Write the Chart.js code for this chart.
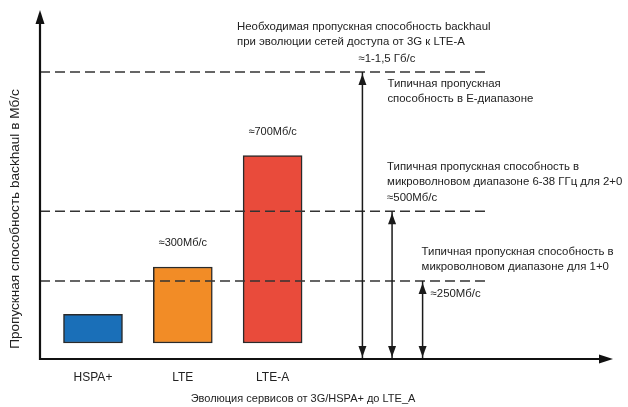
<!DOCTYPE html>
<html>
<head>
<meta charset="utf-8">
<script src="https://cdn.jsdelivr.net/npm/chart.js@4"></script>
<style>
  html, body { margin: 0; padding: 0; background: #fff; }
  #wrap { width: 628px; height: 407px; }
</style>
</head>
<body>
<div id="wrap"><canvas id="c" width="628" height="407"></canvas></div>
<script>
// Access technologies and the backhaul capacity each one needs (Mb/s)
const technologies = ['HSPA+', 'LTE', 'LTE-A'];
const techSlots = [1, 2, 3];
const requiredCapacity = [130, 300, 700];
const barFloor = 27;
const capacityLabels = ['', '≈300Мб/с', '≈700Мб/с'];

// Typical transport capacities (Mb/s) and where their arrows stand
const capacityLevels = [1000, 500, 250];
const levelSlots = [4, 4.33, 4.67];
const levelLineEnd = 5.37;

const barColors = ['#1a6fb8', '#f28c26', '#e94b3b'];
const X_MIN = 0.41, X_MAX = 6.79;
const Y_MIN = -30.5, Y_MAX = 1223;

const FONT = '"Liberation Sans", Arial, sans-serif';
const INK = '#222';

const datasets = [];

// Dashed capacity levels
capacityLevels.forEach(v => {
  datasets.push({
    type: 'line',
    data: [{ x: X_MIN, y: v }, { x: levelLineEnd, y: v }],
    borderColor: '#333',
    borderWidth: 1.5,
    borderDash: [10, 5],
    pointRadius: 0,
    fill: false,
    order: 2
  });
});

// Vertical double-headed arrows from the axis up to each level
capacityLevels.forEach((v, i) => {
  datasets.push({
    type: 'line',
    data: [{ x: levelSlots[i], y: Y_MIN }, { x: levelSlots[i], y: v }],
    borderColor: '#1a1a1a',
    borderWidth: 1.5,
    pointRadius: 0,
    fill: false,
    order: 1
  });
});

// Bars
datasets.push({
  type: 'bar',
  data: techSlots.map((x, i) => ({ x: x, y: [barFloor, requiredCapacity[i]] })),
  backgroundColor: barColors,
  borderColor: '#2a2a2a',
  borderWidth: 1.5,
  borderSkipped: false,
  barThickness: 59,
  order: 3
});

function triangle(ctx, tipX, tipY, dx, dy, len, half) {
  // dx,dy: unit direction the tip points to
  const bx = tipX - dx * len, by = tipY - dy * len;
  ctx.beginPath();
  ctx.moveTo(tipX, tipY);
  ctx.lineTo(bx - dy * half, by + dx * half);
  ctx.lineTo(bx + dy * half, by - dx * half);
  ctx.closePath();
  ctx.fill();
}

const decorations = {
  id: 'decorations',
  afterDatasetsDraw(chart) {
    const { ctx, chartArea: a, scales: { x, y } } = chart;
    ctx.save();

    // Axes with arrowheads
    ctx.strokeStyle = '#111';
    ctx.fillStyle = '#111';
    ctx.lineWidth = 2.2;
    ctx.beginPath();
    ctx.moveTo(a.left, a.top + 8);
    ctx.lineTo(a.left, a.bottom);
    ctx.lineTo(a.right - 8, a.bottom);
    ctx.stroke();
    triangle(ctx, a.left, a.top, 0, -1, 14, 4.5);
    triangle(ctx, a.right, a.bottom, 1, 0, 14, 4.5);

    // Arrowheads on the level arrows
    ctx.fillStyle = '#1a1a1a';
    capacityLevels.forEach((v, i) => {
      const px = x.getPixelForValue(levelSlots[i]);
      triangle(ctx, px, y.getPixelForValue(v) + 2, 0, -1, 11, 4);
      triangle(ctx, px, y.getPixelForValue(Y_MIN) - 2, 0, 1, 11, 4);
    });

    ctx.fillStyle = INK;
    ctx.textBaseline = 'middle';

    // Category labels
    ctx.font = '12px ' + FONT;
    ctx.textAlign = 'center';
    technologies.forEach((t, i) => {
      ctx.fillText(t, x.getPixelForValue(techSlots[i]), a.bottom + 19);
    });

    // Values above bars
    ctx.font = '11px ' + FONT;
    requiredCapacity.forEach((v, i) => {
      if (!capacityLabels[i]) return;
      ctx.fillText(capacityLabels[i], x.getPixelForValue(techSlots[i]), y.getPixelForValue(v) - 24);
    });

    // Axis titles
    ctx.font = '11px ' + FONT;
    ctx.fillText('Эволюция сервисов от 3G/HSPA+ до LTE_A', 303, a.bottom + 40);
    ctx.save();
    ctx.translate(15, 219);
    ctx.rotate(-Math.PI / 2);
    ctx.font = '13.6px ' + FONT;
    ctx.fillText('Пропускная способность backhaul в Мб/с', 0, 0);
    ctx.restore();

    // Header
    ctx.textAlign = 'left';
    ctx.font = '11.4px ' + FONT;
    ctx.fillText('Необходимая пропускная способность backhaul', 237, 27);
    ctx.fillText('при эволюции сетей доступа от 3G к LTE-A', 237, 42);

    // Level annotations
    const ax0 = x.getPixelForValue(levelSlots[0]);
    const ax1 = x.getPixelForValue(levelSlots[1]);
    const ax2 = x.getPixelForValue(levelSlots[2]);
    const l0 = y.getPixelForValue(capacityLevels[0]);
    const l1 = y.getPixelForValue(capacityLevels[1]);
    const l2 = y.getPixelForValue(capacityLevels[2]);

    ctx.fillText('≈1-1,5 Гб/с', ax0 - 4, l0 - 13);
    ctx.fillText('Типичная пропускная', ax0 + 25, l0 + 12);
    ctx.fillText('способность в E-диапазоне', ax0 + 25, l0 + 27);

    ctx.fillText('Типичная пропускная способность в', ax1 - 5, l1 - 44);
    ctx.fillText('микроволновом диапазоне 6-38 ГГц для 2+0', ax1 - 5, l1 - 29);
    ctx.fillText('≈500Мб/с', ax1 - 5, l1 - 13);

    ctx.fillText('Типичная пропускная способность в', ax2 - 1, l2 - 29);
    ctx.fillText('микроволновом диапазоне для 1+0', ax2 - 1, l2 - 14);
    ctx.fillText('≈250Мб/с', ax2 + 8, l2 + 13);

    ctx.restore();
  }
};

new Chart(document.getElementById('c'), {
  type: 'bar',
  data: { datasets: datasets },
  options: {
    responsive: false,
    animation: false,
    devicePixelRatio: 1,
    layout: { padding: { left: 40, right: 15, top: 10, bottom: 48 } },
    plugins: { legend: { display: false }, tooltip: { enabled: false } },
    scales: {
      x: { type: 'linear', offset: false, min: X_MIN, max: X_MAX, display: false },
      y: { type: 'linear', min: Y_MIN, max: Y_MAX, display: false }
    }
  },
  plugins: [decorations]
});
</script>
</body>
</html>
